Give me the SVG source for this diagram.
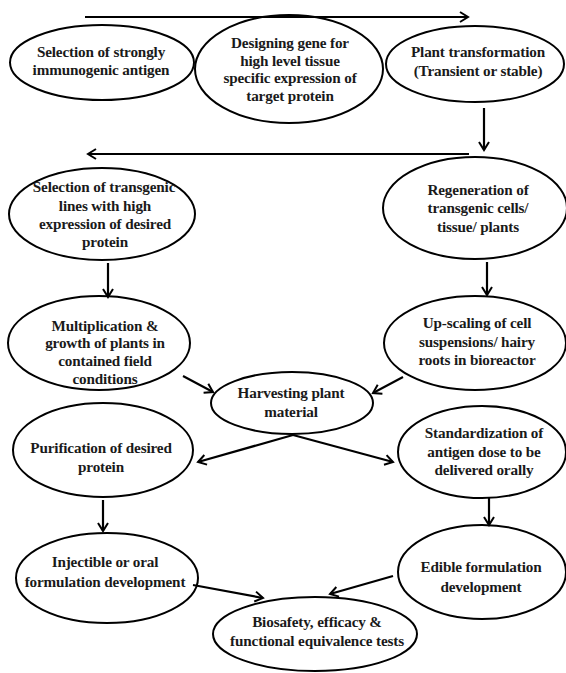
<svg xmlns="http://www.w3.org/2000/svg" width="566" height="673" viewBox="0 0 566 673">
<style>
.n ellipse{fill:none;stroke:#000;stroke-width:2}
#connectors line{stroke:#000;stroke-width:2.2;fill:none;marker-end:url(#ah)}
</style>
<defs>
<marker id="ah" viewBox="0 0 12 12" refX="10" refY="6" markerWidth="12" markerHeight="12" markerUnits="userSpaceOnUse" orient="auto">
<path d="M2,1 L10,6 L2,11" fill="none" stroke="#000" stroke-width="2"/>
</marker>
</defs>
<rect width="566" height="673" fill="#fff"/>
<g id="connectors">
<line x1="85" y1="17" x2="468" y2="17"/>
<line x1="484" y1="108" x2="484" y2="150"/>
<line x1="469" y1="154" x2="88" y2="154"/>
<line x1="108" y1="263" x2="108" y2="297"/>
<line x1="487" y1="262" x2="487" y2="295"/>
<line x1="183" y1="376" x2="213" y2="392"/>
<line x1="403" y1="377" x2="373" y2="393"/>
<line x1="293" y1="435" x2="198" y2="462"/>
<line x1="293" y1="435" x2="393" y2="462"/>
<line x1="103" y1="500" x2="103" y2="531"/>
<line x1="489" y1="498" x2="489" y2="525"/>
<line x1="193" y1="585" x2="263" y2="598"/>
<line x1="393" y1="576" x2="330" y2="594"/>
</g>
<g font-family="Liberation Serif, Times New Roman, serif" font-weight="bold" font-size="15.2" fill="#1a1a1a" text-anchor="middle" letter-spacing="-0.15">
<g id="n1" class="n"><ellipse cx="102" cy="62.5" rx="92" ry="37.5"/><text x="101" y="57">Selection of strongly</text><text x="101" y="75">immunogenic antigen</text></g>
<g id="n2" class="n"><ellipse cx="289" cy="69" rx="94" ry="54"/><text x="290" y="48">Designing gene for</text><text x="290" y="65.5">high level tissue</text><text x="290" y="83">specific expression of</text><text x="290" y="100.5">target protein</text></g>
<g id="n3" class="n"><ellipse cx="475" cy="64" rx="89" ry="38"/><text x="478" y="57">Plant transformation</text><text x="478" y="76">(Transient or stable)</text></g>
<g id="n4" class="n"><ellipse cx="102" cy="214" rx="93" ry="46"/><text x="104" y="192">Selection of transgenic</text><text x="105" y="211">lines with high</text><text x="105" y="229">expression of desired</text><text x="105" y="247">protein</text></g>
<g id="n5" class="n"><ellipse cx="475" cy="208" rx="92" ry="51"/><text x="478" y="195">Regeneration of</text><text x="478" y="213">transgenic cells/</text><text x="478" y="232">tissue/ plants</text></g>
<g id="n6" class="n"><ellipse cx="99" cy="343" rx="91" ry="47"/><text x="105" y="331">Multiplication  &amp;</text><text x="105" y="348">growth of plants in</text><text x="105" y="366">contained field</text><text x="105" y="384">conditions</text></g>
<g id="n7" class="n"><ellipse cx="475" cy="343" rx="91" ry="47"/><text x="477" y="328">Up-scaling of cell</text><text x="477" y="347">suspensions/ hairy</text><text x="477" y="365">roots in bioreactor</text></g>
<g id="n8" class="n"><ellipse cx="292" cy="403" rx="81" ry="31"/><text x="291" y="398">Harvesting plant</text><text x="291" y="417">material</text></g>
<g id="n9" class="n"><ellipse cx="103" cy="450" rx="90" ry="47"/><text x="101" y="453">Purification of desired</text><text x="101" y="472">protein</text></g>
<g id="n10" class="n"><ellipse cx="482" cy="452" rx="84" ry="46"/><text x="484" y="438">Standardization of</text><text x="484" y="457">antigen dose to be</text><text x="484" y="475">delivered orally</text></g>
<g id="n11" class="n"><ellipse cx="107" cy="578" rx="91" ry="45"/><text x="105" y="567">Injectible or oral</text><text x="105" y="587">formulation development</text></g>
<g id="n12" class="n"><ellipse cx="482" cy="572" rx="84" ry="47"/><text x="481" y="572">Edible formulation</text><text x="481" y="592">development</text></g>
<g id="n13" class="n"><ellipse cx="315" cy="634" rx="102" ry="37"/><text x="317" y="627">Biosafety, efficacy  &amp;</text><text x="317" y="646">functional equivalence tests</text></g>
</g>
</svg>
